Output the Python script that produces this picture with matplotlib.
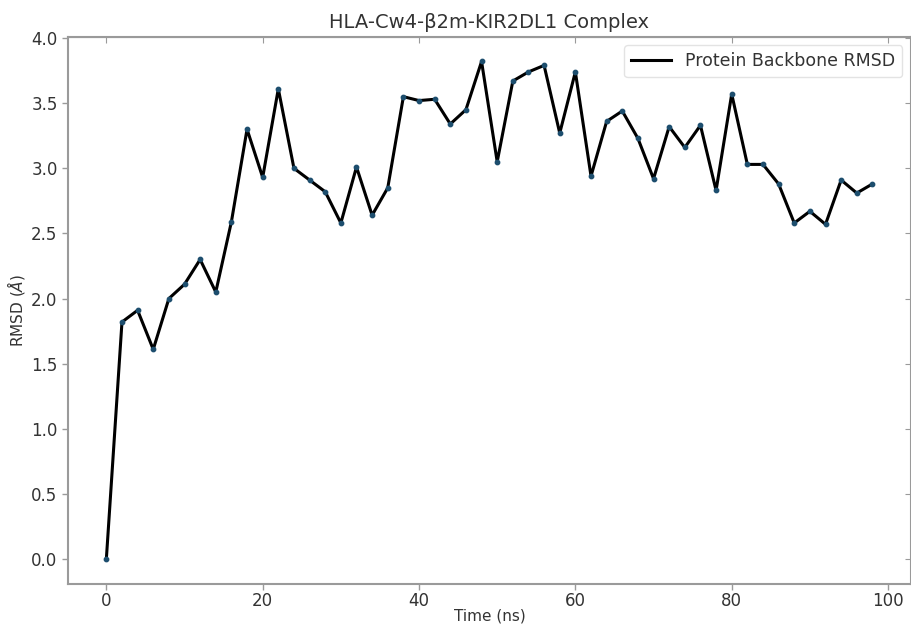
import matplotlib
matplotlib.use('Agg')
import matplotlib.pyplot as plt

# RMSD trace, one frame every 2 ns
time_ns = list(range(0, 100, 2))
rmsd = [0.00, 1.82, 1.91, 1.61, 2.00, 2.11, 2.30, 2.05, 2.59, 3.30,
        2.93, 3.61, 3.00, 2.91, 2.82, 2.58, 3.01, 2.64, 2.85, 3.55,
        3.52, 3.53, 3.34, 3.45, 3.82, 3.05, 3.67, 3.74, 3.79, 3.27,
        3.74, 2.94, 3.36, 3.44, 3.23, 2.92, 3.32, 3.16, 3.33, 2.83,
        3.57, 3.03, 3.03, 2.88, 2.58, 2.67, 2.57, 2.91, 2.81, 2.88]
x_ticks = [0, 20, 40, 60, 80, 100]
y_ticks = [0.0, 0.5, 1.0, 1.5, 2.0, 2.5, 3.0, 3.5, 4.0]

spine_col = '#9a9a9a'
text_col = '#333333'

fig = plt.figure(figsize=(9.12, 6.27), dpi=100)
ax = fig.add_axes([0.0746, 0.0686, 0.924, 0.873])

ax.plot(time_ns, rmsd, color='black', linewidth=2.2, label='Protein Backbone RMSD', zorder=2)
ax.scatter(time_ns, rmsd, s=10, color='#1d4e6e', zorder=3)

ax.set_xticks(x_ticks)
ax.set_yticks(y_ticks)
ax.set_xlabel('Time (ns)', fontsize=11, color=text_col, labelpad=-1)
ax.set_ylabel(r'RMSD ($\AA$)', fontsize=11, color=text_col, labelpad=3)
ax.set_title('HLA-Cw4-β2m-KIR2DL1 Complex', fontsize=14, color=text_col, pad=6)

for s in ax.spines.values():
    s.set_color(spine_col)
    s.set_linewidth(1.5)
ax.tick_params(colors=spine_col, labelcolor=text_col, labelsize=12, width=1, length=4)
ax.tick_params(axis='x', pad=2)

# inward ticks on top and right
top = ax.secondary_xaxis('top')
top.set_xticks(x_ticks)
top.tick_params(direction='in', labeltop=False, colors=spine_col, length=4)
top.spines['top'].set_color(spine_col)
right = ax.secondary_yaxis('right')
right.set_yticks(y_ticks)
right.tick_params(direction='in', labelright=False, colors=spine_col, length=4)
right.spines['right'].set_color(spine_col)

leg = ax.legend(loc='upper right', fontsize=12.5, frameon=True, handlelength=2.3)
leg.get_frame().set_edgecolor('#dddddd')
for t in leg.get_texts():
    t.set_color(text_col)

fig.savefig('out.png', dpi=100)
